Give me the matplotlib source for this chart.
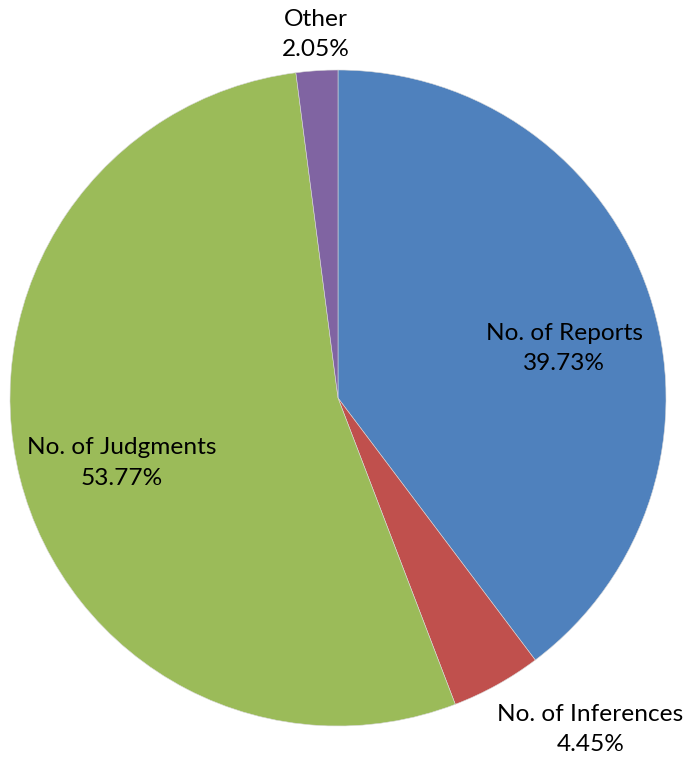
import matplotlib

matplotlib.use("Agg")
import matplotlib.pyplot as plt

categories = ["No. of Reports", "No. of Inferences", "No. of Judgments", "Other"]
shares = [39.73, 4.45, 53.77, 2.05]
colors = ["#4F81BD", "#C0504D", "#9BBB59", "#8064A2"]

# label anchor points, in units of the pie radius
label_xy = [(0.69, 0.15), (0.77, -1.01), (-0.66, -0.198), (-0.067, 1.108)]

plt.rcParams["font.family"] = ["Lato", "DejaVu Sans"]

fig = plt.figure(figsize=(6.91, 7.61), dpi=100)
ax = fig.add_axes([10 / 691, 35 / 761, 656 / 691, 656 / 761])

ax.pie(
    shares,
    colors=colors,
    startangle=90,
    counterclock=False,
    radius=1.0,
    wedgeprops={"edgecolor": "#d9d9d9", "linewidth": 0.4},
)

for name, value, (x, y) in zip(categories, shares, label_xy):
    ax.text(x, y, f"{name}\n{value:.2f}%", ha="center", va="center",
            fontsize=17.6, color="#000000", linespacing=1.55)

ax.set_xlim(-1, 1)
ax.set_ylim(-1, 1)
ax.set_aspect("equal")
ax.axis("off")

fig.savefig("out.png", dpi=100)
